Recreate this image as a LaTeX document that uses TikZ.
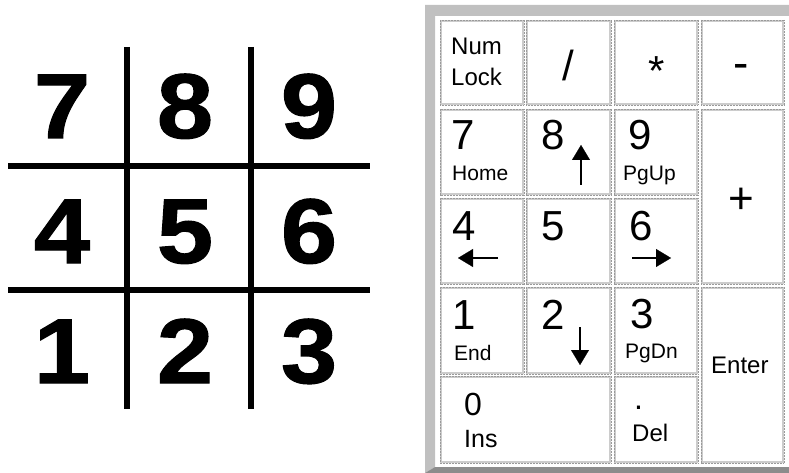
\documentclass[tikz,border=0pt]{standalone}
\usepackage{fontspec}
\setmainfont{Liberation Sans}
\newfontfamily\bigdig{Liberation Sans}[FakeStretch=1.1,FakeBold=1.2]
\usetikzlibrary{arrows.meta}
\definecolor{framelight}{HTML}{C0C0C0}
\definecolor{framedark}{HTML}{8C8C8C}
\definecolor{keyouter}{HTML}{CCCCCC}
\definecolor{keyinner}{HTML}{9A9A9A}
\begin{document}
\begin{tikzpicture}[x=1pt,y=-1pt,
  gridline/.style={line width=6.5pt},
  bigdigit/.style={font=\bigdig\bfseries\fontsize{92}{92}\selectfont, anchor=base, inner sep=0pt},
  keybox/.style={draw=keyouter, line width=2.2pt, fill=white, inner sep=0pt},
  keyedge/.style={draw=keyinner, line width=0.6pt, dash pattern=on 1pt off 0.5pt},
  lbl/.style={anchor=base west, inner sep=0pt},
  kdig/.style={lbl, font=\fontsize{42}{42}\selectfont},
  ksub/.style={lbl, font=\fontsize{21}{21}\selectfont},
  kmid/.style={lbl, font=\fontsize{24}{24}\selectfont},
  karrow/.style={line width=2.2pt, -{Triangle[length=15pt,width=18pt,line width=0.1pt]}},
]
\useasboundingbox (0,0) rectangle (789,473);
\fill[white] (0,0) rectangle (789,473);

% ---------- left grid ----------
\coordinate (v1t) at (127,47);  \coordinate (v1b) at (127,409);
\coordinate (v2t) at (251,47);  \coordinate (v2b) at (251,409);
\coordinate (h1l) at (8,166);   \coordinate (h1r) at (370,166);
\coordinate (h2l) at (8,290);   \coordinate (h2r) at (370,290);
\draw[gridline] (v1t) -- (v1b);
\draw[gridline] (v2t) -- (v2b);
\draw[gridline] (h1l) -- (h1r);
\draw[gridline] (h2l) -- (h2r);

\node[bigdigit] (d7) at (62,138) {7};
\node[bigdigit] (d8) at (185,138) {8};
\node[bigdigit] (d9) at (309,138) {9};
\node[bigdigit] (d4) at (62,263) {4};
\node[bigdigit] (d5) at (185,263) {5};
\node[bigdigit] (d6) at (309,263) {6};
\node[bigdigit] (d1) at (62,383) {1};
\node[bigdigit] (d2) at (185,383) {2};
\node[bigdigit] (d3) at (309,383) {3};

% ---------- keypad frame ----------
\fill[framelight] (425,5) -- (789,5) -- (789,16) -- (435,16) -- (435,467) -- (425,473) -- cycle;
\fill[framedark] (425,473) -- (435,467) -- (789,467) -- (789,473) -- cycle;

% ---------- keys ----------
\node[keybox, minimum width=82pt, minimum height=83pt] (knum)   at (482,62.5) {};
\node[keybox, minimum width=83pt, minimum height=83pt] (kdiv)   at (568.5,62.5) {};
\node[keybox, minimum width=82pt, minimum height=83pt] (kmul)   at (656,62.5) {};
\node[keybox, minimum width=81pt, minimum height=83pt] (kminus) at (742.5,62.5) {};
\node[keybox, minimum width=82pt, minimum height=84pt] (k7) at (482,152) {};
\node[keybox, minimum width=83pt, minimum height=84pt] (k8) at (568.5,152) {};
\node[keybox, minimum width=82pt, minimum height=84pt] (k9) at (656,152) {};
\node[keybox, minimum width=81pt, minimum height=173pt] (kplus) at (742.5,196.5) {};
\node[keybox, minimum width=82pt, minimum height=84pt] (k4) at (482,241) {};
\node[keybox, minimum width=83pt, minimum height=84pt] (k5) at (568.5,241) {};
\node[keybox, minimum width=82pt, minimum height=84pt] (k6) at (656,241) {};
\node[keybox, minimum width=82pt, minimum height=85pt] (k1) at (482,330.5) {};
\node[keybox, minimum width=83pt, minimum height=85pt] (k2) at (568.5,330.5) {};
\node[keybox, minimum width=82pt, minimum height=85pt] (k3) at (656,330.5) {};
\node[keybox, minimum width=81pt, minimum height=174pt] (kenter) at (742.5,375) {};
\node[keybox, minimum width=169pt, minimum height=85pt] (k0) at (525.5,419.5) {};
\node[keybox, minimum width=82pt, minimum height=85pt] (kdel) at (656,419.5) {};
\foreach \k in {knum,kdiv,kmul,kminus,k7,k8,k9,kplus,k4,k5,k6,k1,k2,k3,kenter,k0,kdel}
  \draw[keyedge] (\k.north west) rectangle (\k.south east);

% ---------- key labels ----------
\node[lbl, font=\fontsize{24}{24}\selectfont] (tnum) at (451,55) {Num};
\node[lbl, font=\fontsize{24}{24}\selectfont] (tlock) at (451,86) {Lock};
\node[kdig, anchor=base] (tdiv) at (568,81) {/};
\node[kdig, anchor=base] (tmul) at (657,86) {*};
\node[lbl, anchor=base, font=\fontsize{46}{46}\selectfont] (tminus) at (741,79) {-};

\node[kdig] (t7) at (451,150) {7};
\node[ksub] (thome) at (452,180) {Home};
\node[kdig] (t8) at (541,150) {8};
\node[kdig] (t9) at (628,150) {9};
\node[ksub] (tpgup) at (623,181) {PgUp};
\node[lbl, anchor=base, font=\fontsize{44}{44}\selectfont] (tplus) at (741,213) {+};

\node[kdig] (t4) at (452,240) {4};
\node[kdig] (t5) at (541,240) {5};
\node[kdig] (t6) at (629,240) {6};

\node[kdig] (t1) at (452,329) {1};
\node[ksub] (tend) at (454,360) {End};
\node[kdig] (t2) at (541,329) {2};
\node[kdig] (t3) at (630,328) {3};
\node[ksub] (tpgdn) at (625,358) {PgDn};
\node[kmid] (tenter) at (711,373) {Enter};

\node[lbl, font=\fontsize{32}{32}\selectfont] (t0) at (464,415) {0};
\node[lbl, font=\fontsize{25}{25}\selectfont] (tins) at (464,447) {Ins};
\node[lbl, font=\fontsize{32}{32}\selectfont] (tdot) at (634,409) {.};
\node[kmid] (tdel) at (632,441) {Del};

% ---------- arrows ----------
\coordinate (upT) at (581,185);   \coordinate (upH) at (581,145);
\coordinate (lfT) at (498,258);   \coordinate (lfH) at (458,258);
\coordinate (rtT) at (632,258);   \coordinate (rtH) at (671,258);
\coordinate (dnT) at (580,327);   \coordinate (dnH) at (580,365);
\draw[karrow] (upT) -- (upH);
\draw[karrow] (lfT) -- (lfH);
\draw[karrow] (rtT) -- (rtH);
\draw[karrow] (dnT) -- (dnH);
\end{tikzpicture}
\end{document}
